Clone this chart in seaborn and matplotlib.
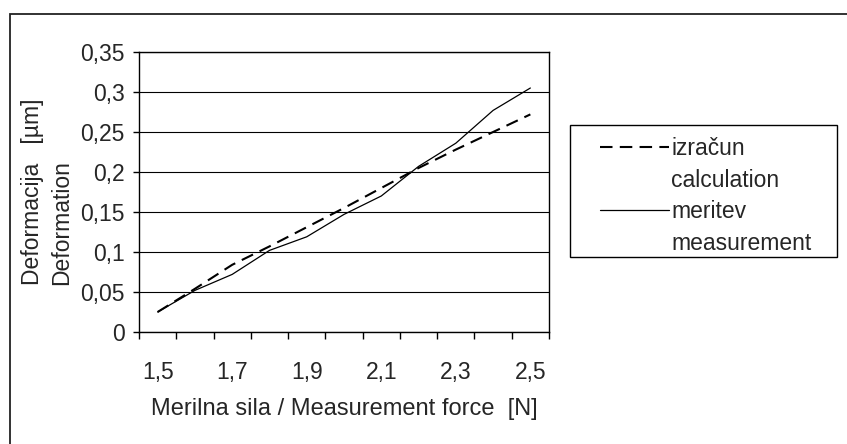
import numpy as np
import pandas as pd
import matplotlib
matplotlib.use("Agg")
import matplotlib.pyplot as plt
from matplotlib.patches import Rectangle
from matplotlib.lines import Line2D
from matplotlib.ticker import FuncFormatter
import seaborn as sns

force = [1.5, 1.6, 1.7, 1.8, 1.9, 2.0, 2.1, 2.2, 2.3, 2.4, 2.5]
calculation = [0.025, 0.054, 0.084, 0.107, 0.131, 0.155, 0.180, 0.205, 0.228, 0.250, 0.272]
measurement = [0.025, 0.052, 0.072, 0.102, 0.119, 0.147, 0.170, 0.207, 0.236, 0.277, 0.305]
x_labels = ["1,5", "1,7", "1,9", "2,1", "2,3", "2,5"]
legend_labels = ["izračun", "calculation", "meritev", "measurement"]

sns.set_style("white")
plt.rcParams["font.family"] = ["Liberation Sans", "DejaVu Sans"]
FS = 16.5

W, H = 847, 444
fig = plt.figure(figsize=(W / 100, H / 100), dpi=100)

# outer chart frame (cut off at right / bottom)
fig.patches.append(Rectangle((10 / W, -0.2), 1.2, 1.2 - 14 / H,
                             transform=fig.transFigure, fill=False,
                             edgecolor="#222222", linewidth=1.3))

ax = fig.add_axes([139 / W, 1 - 332 / H, (549 - 139) / W, (332 - 52) / H])

df = pd.DataFrame({"force": force, "calc": calculation, "meas": measurement})
sns.lineplot(data=df, x="force", y="calc", ax=ax, color="black", linewidth=1.5)
sns.lineplot(data=df, x="force", y="meas", ax=ax, color="black", linewidth=0.9)
ax.lines[0].set_dashes((6, 3.5))

ax.set_ylim(0, 0.35)
ax.set_yticks(np.arange(0, 0.351, 0.05))
ax.yaxis.set_major_formatter(FuncFormatter(lambda v, p: f"{v:g}".replace(".", ",")))
ax.grid(axis="y", color="black", linewidth=0.8)
ax.set_axisbelow(True)

edges = list(np.array(force) - 0.05) + [force[-1] + 0.05]
ax.set_xlim(edges[0], edges[-1])
ax.set_xticks(edges)
ax.set_xticklabels([])
ax.set_xticks(force[::2], minor=True)
ax.set_xticklabels(x_labels, minor=True)
ax.tick_params(axis="x", which="major", direction="out", length=5, width=1, color="black", bottom=True)
ax.tick_params(axis="x", which="minor", length=0, pad=21, labelsize=FS)
ax.tick_params(axis="y", direction="out", length=4.5, width=1, color="black", left=True, pad=6, labelsize=FS)

for s in ax.spines.values():
    s.set_color("black")
    s.set_linewidth(1.0)

ax.set_xlabel("Merilna sila / Measurement force  [N]", fontsize=17, labelpad=10)
ax.set_ylabel("")
fig.text(47 / W, 1 - 192 / H, "Deformacija   [µm]\nDeformation", rotation=90,
         ha="center", va="center", multialignment="left", fontsize=FS, linespacing=1.35)

# legend box
fig.patches.append(Rectangle((570 / W, 1 - 257 / H), (837 - 570) / W, (257 - 125) / H,
                             transform=fig.transFigure, fill=False,
                             edgecolor="black", linewidth=1.0))
blank = Line2D([], [], color="none")
ax.legend([ax.lines[0], blank, ax.lines[1], blank], legend_labels,
          loc="upper left", bbox_to_anchor=(584 / W, 1 - 121 / H),
          bbox_transform=fig.transFigure, frameon=False, fontsize=FS,
          handlelength=3.0, handletextpad=0.1, labelspacing=0.38, borderpad=0.2)

fig.savefig("out.png", dpi=100)
